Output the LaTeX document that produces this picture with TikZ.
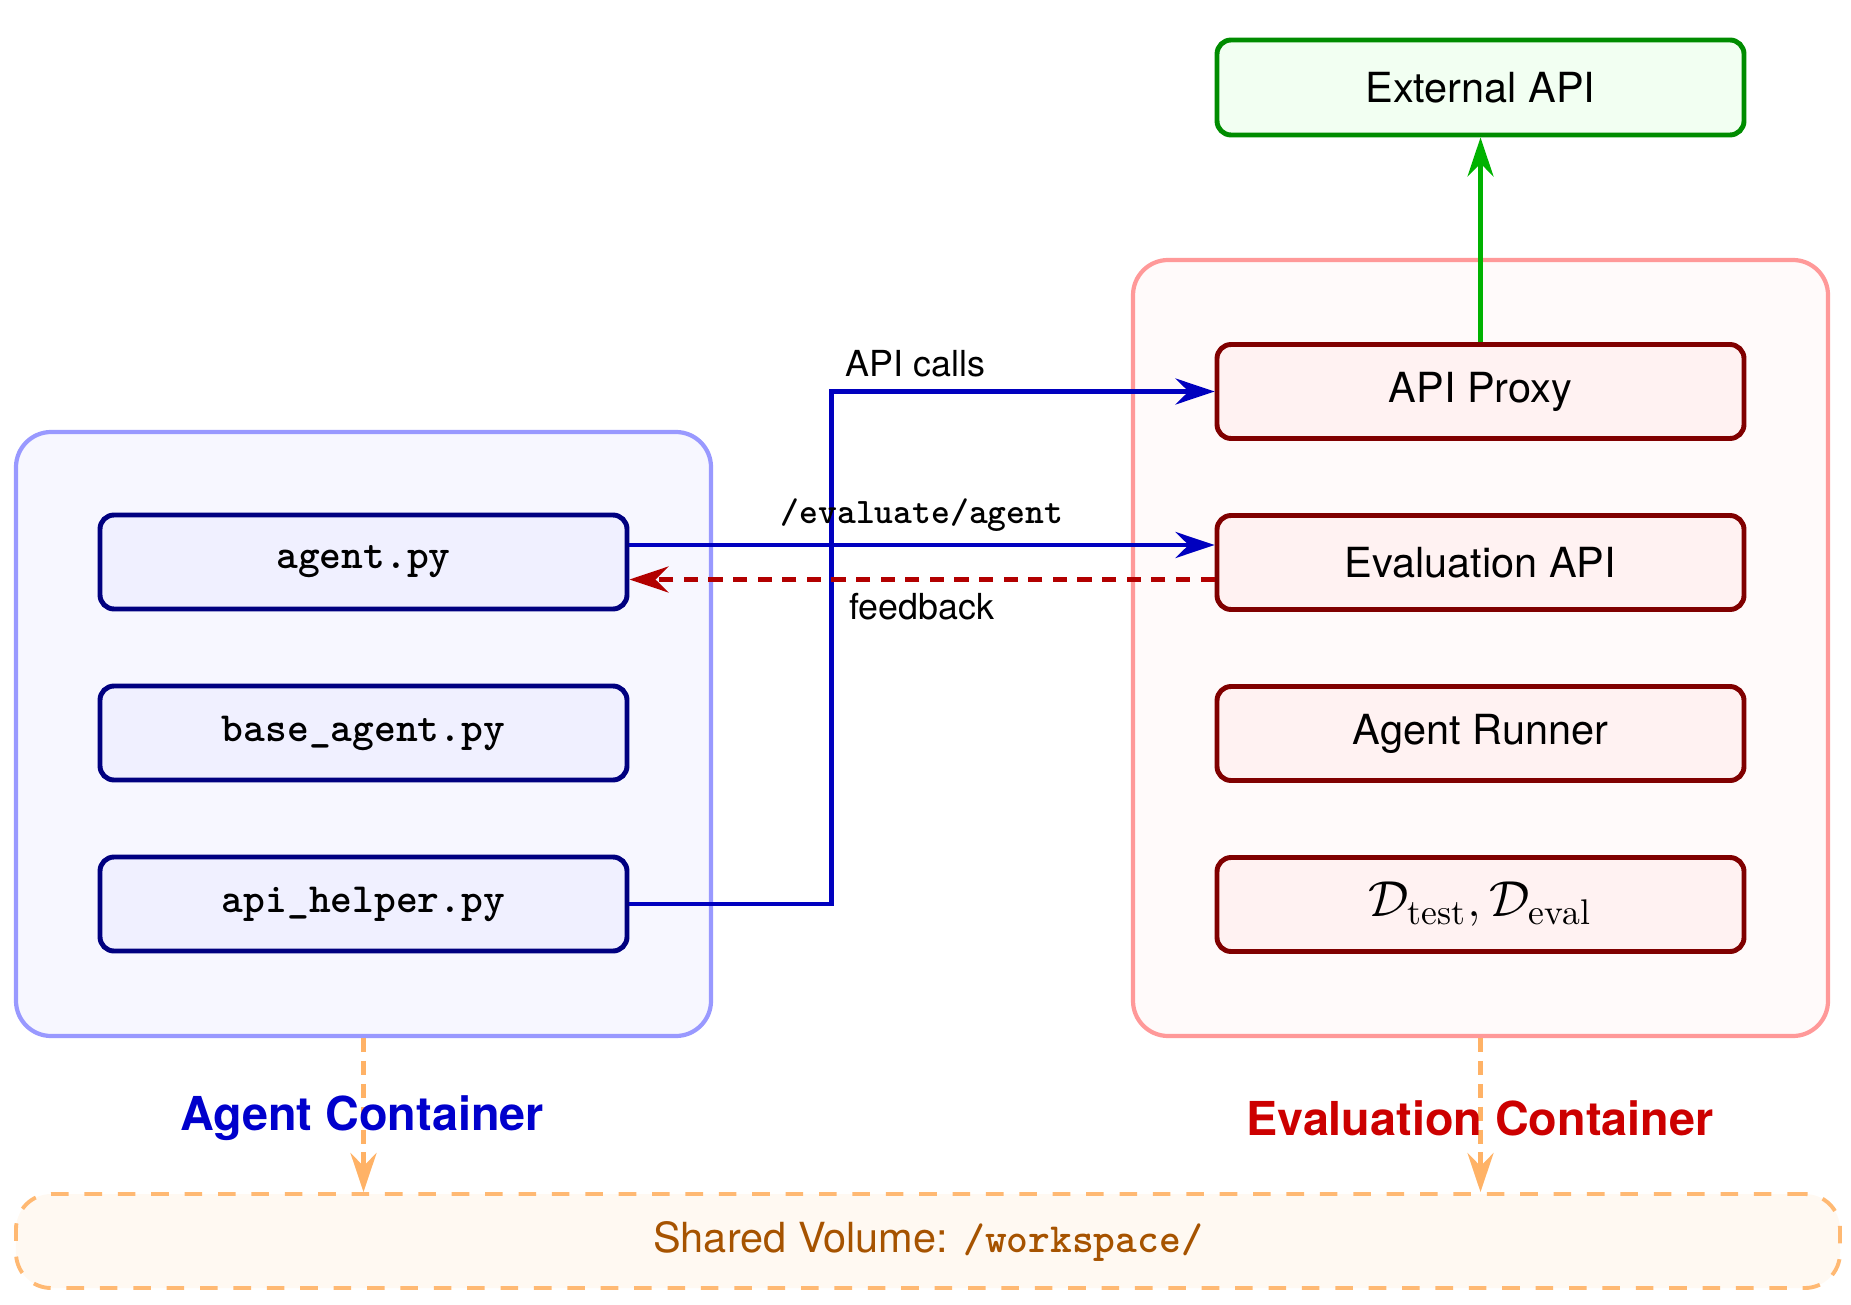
\documentclass[tikz,border=0pt]{standalone}
\usepackage{fontspec}
\setsansfont{TeX Gyre Heros}
\usetikzlibrary{arrows.meta}

\begin{document}
\begin{tikzpicture}[node distance=1.71cm, font=\sffamily\fontsize{11.8}{14}\selectfont,
    agentframe/.style={rectangle, rounded corners=10pt, draw=blue!40, fill=blue!3, line width=1.2pt},
    evalframe/.style={rectangle, rounded corners=10pt, draw=red!40, fill=red!2, line width=1.2pt},
    agentfile/.style={rectangle, rounded corners=4pt, draw=blue!50!black, fill=blue!6, line width=1.4pt, minimum width=5.27cm, minimum height=0.94cm},
    evalpart/.style={rectangle, rounded corners=4pt, draw=red!50!black, fill=red!5, line width=1.4pt, minimum width=5.27cm, minimum height=0.94cm},
    tip/.style={-{Stealth[length=3.9mm, width=2.6mm, inset=1.3mm]}},
    callarrow/.style={tip, draw=blue!75!black, line width=1.3pt},
    feedbackarrow/.style={tip, draw=red!70!black, line width=1.3pt, dash pattern=on 4pt off 3pt},
    sharedarrow/.style={tip, draw=orange!60, line width=1.2pt, dash pattern=on 4pt off 2.5pt},
    edgelabel/.style={font=\sffamily\fontsize{10.2}{12}\selectfont, text=black},
    title/.style={font=\sffamily\bfseries\fontsize{13.3}{16}\selectfont}]
    \useasboundingbox (0,0) rectangle (18.51,13.04);

    % Containers
    \node[agentframe, minimum width=6.95cm, minimum height=6.04cm] (agentbox) at (3.635,5.70) {};
    \node[evalframe, minimum width=6.95cm, minimum height=7.76cm] (evalbox) at (14.805,6.56) {};

    % Agent side
    \node[agentfile] (agent) at (3.635,7.42) {\ttfamily\bfseries agent.py};
    \node[agentfile, below of=agent] (base) {\ttfamily\bfseries base\_agent.py};
    \node[agentfile, below of=base] (helper) {\ttfamily\bfseries api\_helper.py};

    % Evaluation side
    \node[evalpart] (proxy) at (14.805,9.125) {API Proxy};
    \node[evalpart, below of=proxy] (evalapi) {Evaluation API};
    \node[evalpart, below of=evalapi] (runner) {Agent Runner};
    \node[evalpart, below of=runner, font=\fontsize{14.5}{17}\selectfont] (data) {$\mathcal{D}_{\mathrm{test}}, \mathcal{D}_{\mathrm{eval}}$};

    % External API
    \node[rectangle, rounded corners=4pt, draw=green!55!black, fill=green!5, line width=1.4pt,
          minimum width=5.27cm, minimum height=0.95cm, above of=proxy, yshift=1.33cm] (external) {External API};

    % Shared volume
    \node[rectangle, rounded corners=10pt, draw=orange!55, fill=orange!5, line width=1.1pt,
          dash pattern=on 5pt off 4.5pt, minimum width=18.24cm, minimum height=0.94cm,
          text=orange!65!black] (shared) at (9.28,0.63) {Shared Volume: {\ttfamily\bfseries /workspace/}};

    % Connections
    \draw[sharedarrow] (agentbox.south) -- (agentbox.south |- shared.north);
    \draw[sharedarrow] (evalbox.south) -- (evalbox.south |- shared.north);
    \draw[callarrow] (helper.east) -- ++(2.02,0) |- (proxy.west)
        node[edgelabel, pos=0.5, above right] {API calls};
    \draw[callarrow] ([yshift=1.7mm]agent.east) -- ([yshift=1.7mm]agent.east -| evalapi.west)
        node[edgelabel, midway, above] {\ttfamily\bfseries /evaluate/agent};
    \draw[feedbackarrow] ([yshift=-1.7mm]evalapi.west) -- ([yshift=-1.7mm]evalapi.west -| agent.east)
        node[edgelabel, midway, below] {feedback};
    \draw[tip, draw=green!70!black, line width=1.3pt] (proxy.north) -- (external.south);

    % Labels
    \node[title, text=blue!80!black] (agentlabel) at (3.62,1.86) {Agent Container};
    \node[title, text=red!80!black] (evallabel) at (14.80,1.86) {Evaluation Container};
\end{tikzpicture}
\end{document}
